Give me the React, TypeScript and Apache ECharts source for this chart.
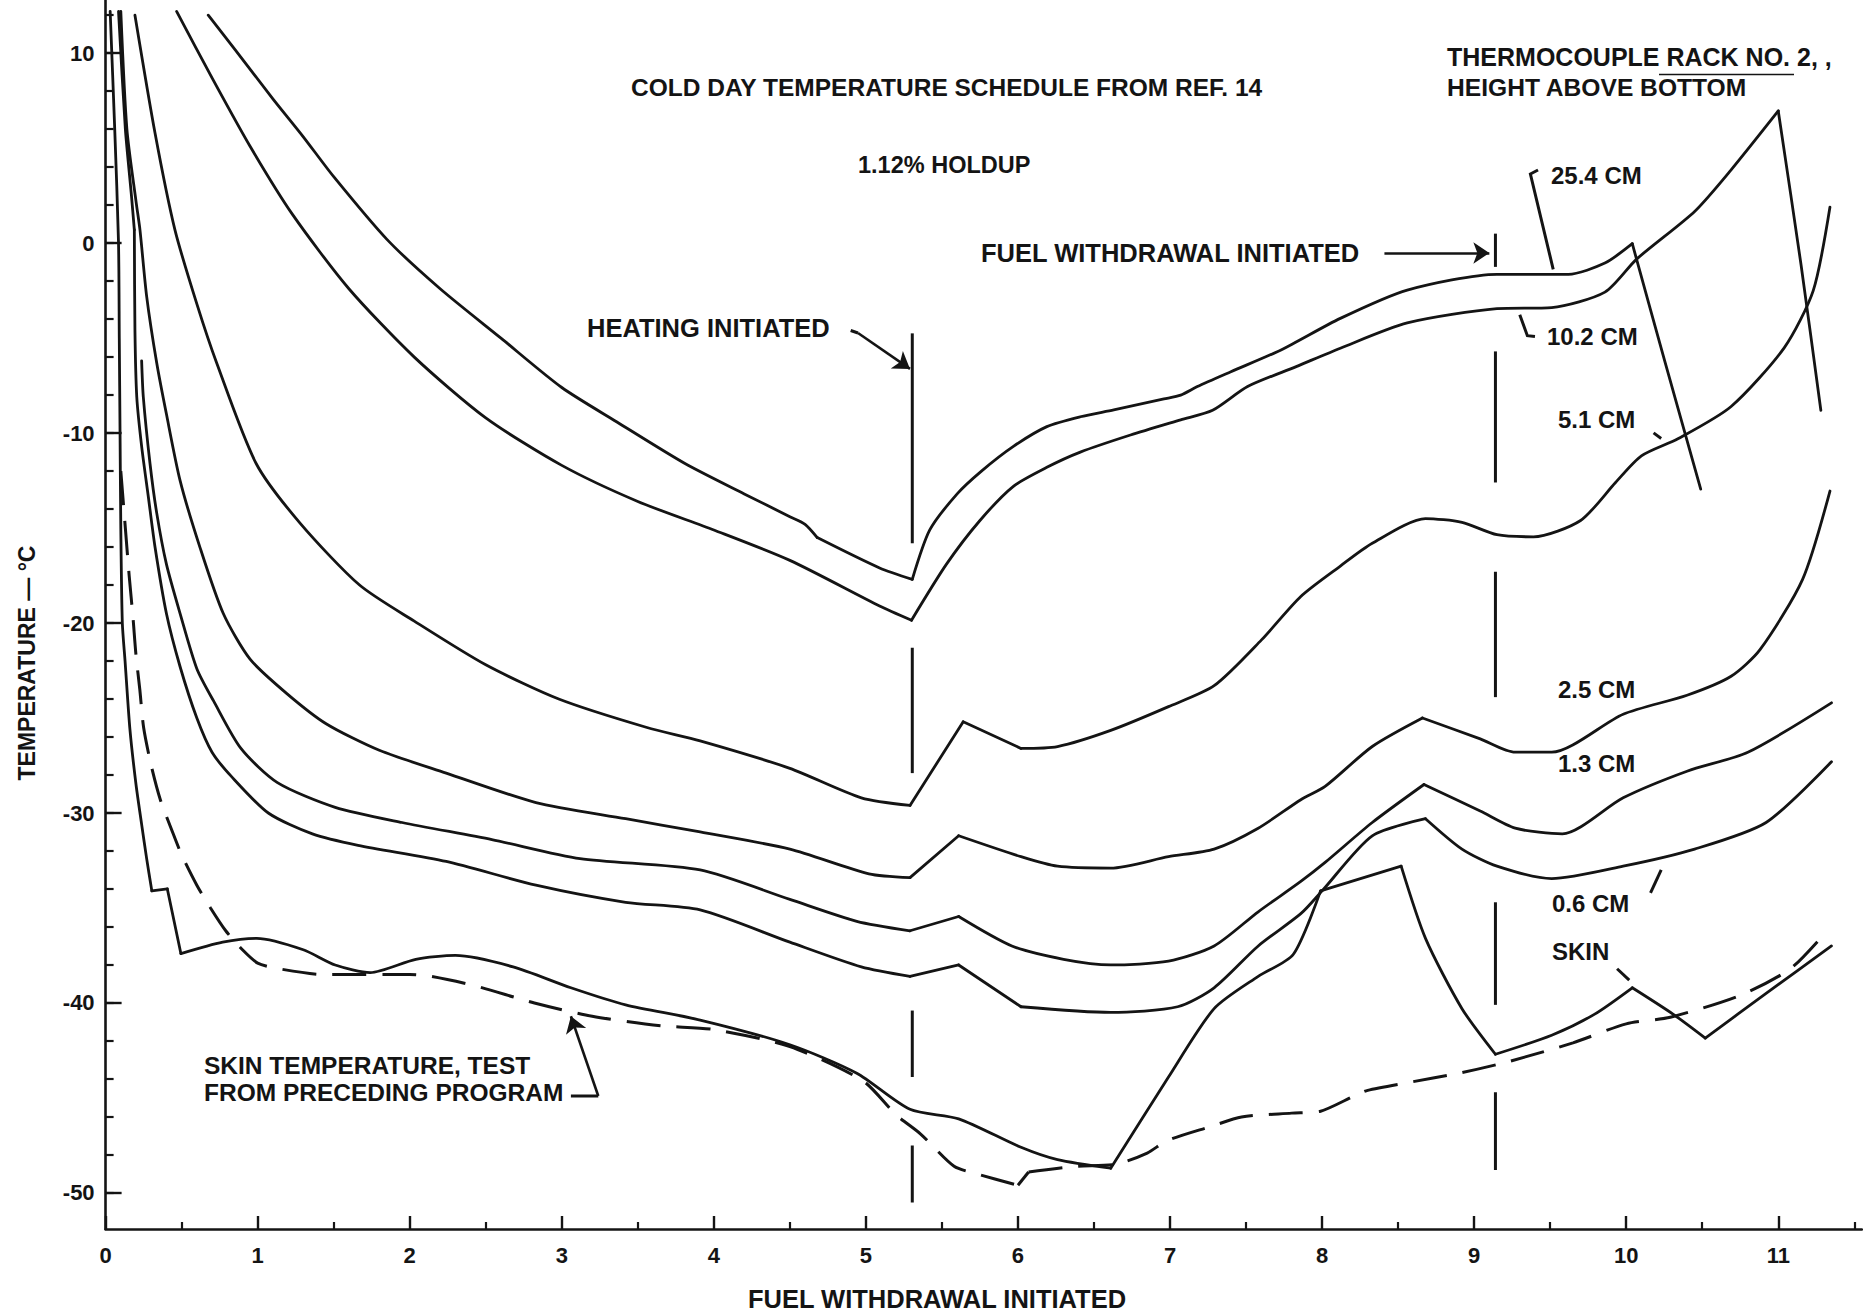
import { useEffect, useRef } from "react";
import * as echarts from "echarts";

const FONT = '"Liberation Sans", Arial, Helvetica, sans-serif';
const INK = "#141414";

// ---------- axes ----------
const X_MIN = 0;
const X_MAX = 11.55;
const Y_MIN = -51.9;
const Y_MAX = 12.8;
const X_TICK_LABELS = [0, 1, 2, 3, 4, 5, 6, 7, 8, 9, 10, 11];
const X_MINOR_TICKS = [0.5, 1.5, 2.5, 3.5, 4.5, 5.5, 6.5, 7.5, 8.5, 9.5, 10.5, 11.5];
const Y_TICK_LABELS = [-50, -40, -30, -20, -10, 0, 10];
const Y_MINOR_TICKS = [-50, -48, -46, -44, -42, -40, -38, -36, -34, -32, -30, -28, -26, -24, -22, -20, -18, -16, -14, -12, -10, -8, -6, -4, -2, 0, 2, 4, 6, 8, 10, 12];

// ---------- thermocouple curves [x, temperature °C] ----------
const CURVE_25_4 = [[0.675, 12.0], [0.85, 10.2], [1.1, 7.6], [1.3, 5.6], [1.5, 3.5], [1.85, 0.2], [2.2, -2.4], [2.6, -5.0], [3.0, -7.6], [3.36, -9.4], [3.81, -11.6], [4.2, -13.2], [4.5, -14.4], [4.6, -14.8], [4.68, -15.5], [5.09, -17.1], [5.305, -17.7], [5.42, -15.1], [5.6, -13.2], [5.76, -12.0], [5.97, -10.7], [6.19, -9.66], [6.41, -9.14], [6.63, -8.78], [6.96, -8.2], [7.07, -8.0], [7.18, -7.55], [7.4, -6.77], [7.73, -5.62], [8.12, -3.96], [8.56, -2.47], [9.15, -1.64], [9.62, -1.64], [9.86, -1.05], [10.04, -0.03], [10.26, -6.4], [10.49, -12.95]];
const CURVE_10_2 = [[0.467, 12.2], [0.7, 8.7], [0.95, 5.1], [1.23, 1.5], [1.6, -2.4], [2.03, -6.0], [2.5, -9.2], [3.0, -11.7], [3.5, -13.6], [4.0, -15.1], [4.5, -16.7], [5.09, -19.1], [5.3, -19.85], [5.53, -16.9], [5.75, -14.6], [5.97, -12.8], [6.19, -11.8], [6.41, -11.0], [6.74, -10.1], [7.07, -9.3], [7.28, -8.8], [7.51, -7.55], [7.83, -6.5], [8.12, -5.53], [8.56, -4.2], [9.15, -3.45], [9.51, -3.39], [9.86, -2.58], [10.07, -0.83], [10.45, 1.67], [10.69, 3.86], [11.0, 6.96], [11.15, -1.15], [11.28, -8.8]];
const CURVE_5_1 = [[0.193, 12.0], [0.325, 5.8], [0.456, 0.7], [0.6, -3.2], [0.73, -6.3], [0.99, -11.6], [1.28, -14.75], [1.67, -18.0], [2.03, -19.9], [2.5, -22.2], [2.98, -24.0], [3.56, -25.5], [3.91, -26.2], [4.5, -27.65], [4.97, -29.2], [5.29, -29.6], [5.64, -25.2], [6.02, -26.6], [6.26, -26.5], [6.61, -25.65], [6.99, -24.4], [7.29, -23.3], [7.6, -20.9], [7.86, -18.6], [8.12, -17.0], [8.33, -15.8], [8.68, -14.5], [8.92, -14.7], [9.15, -15.35], [9.39, -15.46], [9.7, -14.6], [9.93, -12.6], [10.1, -11.2], [10.34, -10.3], [10.69, -8.6], [11.04, -5.5], [11.23, -2.5], [11.34, 1.9]];
const CURVE_2_5 = [[0.1, 12.2], [0.14, 6.0], [0.2, 2.2], [0.226, 0.7], [0.27, -2.8], [0.336, -6.3], [0.4, -9.0], [0.49, -12.5], [0.62, -16.0], [0.774, -19.5], [0.95, -21.9], [1.19, -23.7], [1.45, -25.3], [1.8, -26.7], [2.24, -27.9], [2.83, -29.45], [3.42, -30.3], [3.91, -31.0], [4.5, -31.9], [5.02, -33.2], [5.29, -33.4], [5.61, -31.2], [6.02, -32.3], [6.26, -32.8], [6.61, -32.9], [6.99, -32.3], [7.29, -31.9], [7.58, -30.8], [7.86, -29.3], [8.02, -28.6], [8.33, -26.5], [8.66, -25.0], [9.04, -26.1], [9.27, -26.8], [9.51, -26.8], [9.98, -24.8], [10.4, -23.8], [10.69, -22.8], [10.88, -21.4], [11.16, -17.7], [11.34, -13.05]];
const CURVE_1_3 = [[0.237, -6.2], [0.248, -8.1], [0.292, -11.6], [0.336, -14.2], [0.4, -16.9], [0.49, -19.5], [0.6, -22.4], [0.71, -24.1], [0.89, -26.6], [1.13, -28.4], [1.51, -29.7], [1.95, -30.5], [2.54, -31.4], [3.12, -32.4], [3.91, -33.0], [4.5, -34.55], [4.94, -35.7], [5.29, -36.2], [5.61, -35.45], [5.96, -37.0], [6.3, -37.7], [6.61, -38.0], [6.99, -37.8], [7.29, -37.0], [7.58, -35.2], [7.86, -33.6], [8.02, -32.6], [8.33, -30.5], [8.67, -28.5], [9.04, -29.9], [9.27, -30.8], [9.58, -31.1], [9.98, -29.2], [10.4, -27.8], [10.8, -26.8], [11.35, -24.2]];
const CURVE_0_6 = [[0.085, 12.2], [0.13, 6.0], [0.17, 2.5], [0.189, 0.7], [0.193, -4.6], [0.205, -8.1], [0.237, -10.7], [0.281, -13.35], [0.325, -16.0], [0.4, -19.5], [0.49, -22.3], [0.6, -25.0], [0.7, -26.8], [0.83, -28.1], [1.07, -30.0], [1.36, -31.1], [1.66, -31.7], [2.24, -32.55], [2.83, -33.8], [3.42, -34.7], [3.91, -35.1], [4.5, -36.8], [4.97, -38.1], [5.29, -38.6], [5.61, -38.0], [6.02, -40.2], [6.61, -40.5], [7.05, -40.2], [7.29, -39.2], [7.58, -37.0], [7.86, -35.3], [8.0, -34.1], [8.33, -31.2], [8.68, -30.3], [8.92, -31.9], [9.15, -32.8], [9.51, -33.45], [9.98, -32.8], [10.45, -31.9], [10.92, -30.5], [11.35, -27.3]];
const CURVE_SKIN = [[0.03, 12.2], [0.06, 6.0], [0.085, 0.0], [0.09, -5.0], [0.095, -10.0], [0.1, -15.0], [0.11, -20.0], [0.128, -22.0], [0.16, -25.6], [0.2, -28.5], [0.237, -30.6], [0.27, -32.4], [0.304, -34.1], [0.406, -34.0], [0.495, -37.4], [0.77, -36.8], [0.994, -36.6], [1.3, -37.2], [1.51, -38.0], [1.74, -38.4], [2.04, -37.7], [2.3, -37.5], [2.68, -38.1], [3.06, -39.2], [3.42, -40.1], [3.91, -40.9], [4.5, -42.2], [4.94, -43.7], [5.29, -45.6], [5.61, -46.1], [6.02, -47.6], [6.26, -48.25], [6.61, -48.7], [6.99, -43.9], [7.29, -40.3], [7.58, -38.6], [7.81, -37.45], [7.99, -34.1], [8.52, -32.8], [8.68, -36.6], [8.92, -40.3], [9.14, -42.7], [9.51, -41.7], [9.79, -40.6], [10.04, -39.2], [10.31, -40.6], [10.52, -41.85], [10.92, -39.5], [11.35, -37.0]];
// skin temperature, test from preceding program (dashed)
const CURVE_SKIN_PRECEDING = [[0.1, -12.0], [0.12, -14.0], [0.155, -17.5], [0.18, -19.7], [0.2, -21.7], [0.225, -23.5], [0.25, -25.5], [0.3, -27.5], [0.36, -29.3], [0.44, -31.0], [0.5, -32.2], [0.6, -33.8], [0.69, -35.0], [0.79, -36.2], [0.9, -37.2], [1.0, -37.9], [1.14, -38.2], [1.43, -38.5], [2.0, -38.5], [2.14, -38.6], [2.43, -39.1], [2.82, -40.0], [3.2, -40.7], [3.65, -41.2], [4.0, -41.4], [4.5, -42.3], [4.98, -44.1], [5.2, -45.9], [5.36, -46.9], [5.58, -48.6], [5.73, -49.0], [6.0, -49.6], [6.07, -48.9], [6.38, -48.6], [6.64, -48.5], [6.85, -47.9], [6.98, -47.25], [7.27, -46.5], [7.47, -46.0], [7.8, -45.8], [7.99, -45.7], [8.21, -44.9], [8.3, -44.6], [8.56, -44.2], [8.9, -43.7], [9.22, -43.1], [9.65, -42.1], [10.0, -41.1], [10.29, -40.75], [10.75, -39.6], [11.08, -38.2], [11.31, -36.3]];

// x positions where a curve has a sharp corner (not smoothed through)
const KINKS_25_4 = [4.68, 5.305, 10.04];
const KINKS_10_2 = [5.3, 11.0];
const KINKS_5_1 = [5.29, 5.64, 6.02];
const KINKS_2_5 = [5.29, 5.61, 8.66];
const KINKS_1_3 = [5.29, 5.61, 8.67];
const KINKS_0_6 = [0.189, 5.29, 5.61, 6.02, 8.68];
const KINKS_SKIN = [0.304, 0.406, 0.495, 6.61, 7.99, 8.52, 9.14, 10.04, 10.52];
const KINKS_SKIN_PRECEDING = [6.0, 6.07];

// ---------- event markers (broken vertical lines) ----------
const HEATING_X = 5.305;
const HEATING_SEGMENTS = [[-4.75, -15.8], [-21.3, -27.9], [-40.4, -43.9], [-47.5, -50.5]];
const WITHDRAWAL_X = 9.14;
const WITHDRAWAL_SEGMENTS = [[0.5, -1.25], [-5.7, -12.6], [-17.3, -23.9], [-34.7, -40.1], [-44.7, -48.8]];

// ---------- leader lines and arrows (data coordinates) ----------
const LEADERS = [
  [[9.42, 3.85], [9.37, 3.64], [9.52, -1.38]],
  [[9.3, -3.77], [9.35, -4.87], [9.4, -4.92]],
  [[10.18, -9.99], [10.23, -10.28]],
  [[10.23, -33.0], [10.16, -34.2]],
  [[9.94, -38.2], [10.02, -38.8]],
  [[3.06, -44.9], [3.24, -44.9]],
  [[4.9, -4.6], [4.948, -4.73]],
];
const ARROWS = [
  [[4.948, -4.73], [5.29, -6.62]],
  [[8.41, -0.52], [9.1, -0.52]],
  [[3.24, -44.9], [3.06, -40.7]],
];

// ---------- texts ----------
const TEXTS = [
  { t: "COLD DAY TEMPERATURE SCHEDULE FROM REF. 14", x: 631, y: 87, s: 24.5 },
  { t: "1.12% HOLDUP", x: 858, y: 165, s: 23.5 },
  { t: "HEATING INITIATED", x: 587, y: 328, s: 25.5 },
  { t: "FUEL WITHDRAWAL INITIATED", x: 981, y: 253, s: 25.5 },
  { t: "THERMOCOUPLE RACK NO. 2, ,", x: 1447, y: 57, s: 25 },
  { t: "HEIGHT ABOVE BOTTOM", x: 1447, y: 87, s: 24.6 },
  { t: "25.4 CM", x: 1551, y: 175, s: 24 },
  { t: "10.2 CM", x: 1547, y: 336, s: 24 },
  { t: "5.1 CM", x: 1558, y: 419, s: 24 },
  { t: "2.5 CM", x: 1558, y: 689, s: 24 },
  { t: "1.3 CM", x: 1558, y: 763, s: 24 },
  { t: "0.6 CM", x: 1552, y: 903, s: 24 },
  { t: "SKIN", x: 1552, y: 951, s: 24 },
  { t: "SKIN TEMPERATURE, TEST", x: 204, y: 1065, s: 24.5 },
  { t: "FROM PRECEDING PROGRAM", x: 204, y: 1092, s: 24.5 },
];

function splitAtKinks(curve: number[][], kinks: number[]) {
  const pieces: number[][][] = [];
  let cur: number[][] = [];
  for (const p of curve) {
    cur.push(p);
    if (kinks.indexOf(p[0]) >= 0 && cur.length > 1) {
      pieces.push(cur);
      cur = [p];
    }
  }
  if (cur.length > 1) pieces.push(cur);
  return pieces;
}

export default function App() {
  const ref = useRef<HTMLDivElement>(null);

  useEffect(() => {
    if (!ref.current) return;
    const chart = echarts.init(ref.current, null, { renderer: "svg" });

    const solid = [
      { name: "25.4 CM", data: CURVE_25_4, kinks: KINKS_25_4 },
      { name: "10.2 CM", data: CURVE_10_2, kinks: KINKS_10_2 },
      { name: "5.1 CM", data: CURVE_5_1, kinks: KINKS_5_1 },
      { name: "2.5 CM", data: CURVE_2_5, kinks: KINKS_2_5 },
      { name: "1.3 CM", data: CURVE_1_3, kinks: KINKS_1_3 },
      { name: "0.6 CM", data: CURVE_0_6, kinks: KINKS_0_6 },
      { name: "SKIN", data: CURVE_SKIN, kinks: KINKS_SKIN },
    ];

    const curveSeries: any[] = [];
    solid.forEach((c) => {
      splitAtKinks(c.data, c.kinks).forEach((piece) => {
        curveSeries.push({
          type: "line",
          name: c.name,
          xAxisIndex: 0,
          yAxisIndex: 0,
          data: piece,
          showSymbol: false,
          symbol: "none",
          smooth: 0.25,
          lineStyle: { color: INK, width: 2.8, cap: "round", join: "round" },
          z: 3,
        });
      });
    });
    splitAtKinks(CURVE_SKIN_PRECEDING, KINKS_SKIN_PRECEDING).forEach((piece) => {
      curveSeries.push({
        type: "line",
        name: "SKIN TEMPERATURE, TEST FROM PRECEDING PROGRAM",
        xAxisIndex: 0,
        yAxisIndex: 0,
        data: piece,
        showSymbol: false,
        symbol: "none",
        smooth: 0.25,
        lineStyle: { color: INK, width: 3, type: [34, 16] },
        z: 3,
      });
    });

    const verticals = [
      ...HEATING_SEGMENTS.map((s) => ({ coords: [[HEATING_X, s[0]], [HEATING_X, s[1]]] })),
      ...WITHDRAWAL_SEGMENTS.map((s) => ({ coords: [[WITHDRAWAL_X, s[0]], [WITHDRAWAL_X, s[1]]] })),
    ];

    const axisLabelStyle = {
      fontSize: 22,
      fontWeight: "bold" as const,
      fontFamily: FONT,
      color: INK,
    };

    const option: any = {
      animation: false,
      backgroundColor: "#ffffff",
      grid: { left: 105.6, right: 1.1, top: 0, bottom: 84, containLabel: false },
      xAxis: [
        {
          type: "value",
          min: X_MIN,
          max: X_MAX,
          position: "bottom",
          axisLine: { show: true, onZero: false, lineStyle: { color: INK, width: 2.6 } },
          axisTick: { show: true, inside: true, length: 13, customValues: X_TICK_LABELS, lineStyle: { color: INK, width: 2.4 } },
          axisLabel: { ...axisLabelStyle, margin: 15, customValues: X_TICK_LABELS },
          splitLine: { show: false },
        },
        {
          type: "value",
          min: X_MIN,
          max: X_MAX,
          position: "bottom",
          axisLine: { show: false, onZero: false },
          axisTick: { show: true, inside: true, length: 7, customValues: X_MINOR_TICKS, lineStyle: { color: INK, width: 2.2 } },
          axisLabel: { show: false },
          splitLine: { show: false },
        },
      ],
      yAxis: [
        {
          type: "value",
          min: Y_MIN,
          max: Y_MAX,
          position: "left",
          axisLine: { show: true, onZero: false, lineStyle: { color: INK, width: 2.6 } },
          axisTick: { show: true, inside: true, length: 16, customValues: Y_TICK_LABELS, lineStyle: { color: INK, width: 2.4 } },
          axisLabel: { ...axisLabelStyle, margin: 11, customValues: Y_TICK_LABELS },
          splitLine: { show: false },
        },
        {
          type: "value",
          min: Y_MIN,
          max: Y_MAX,
          position: "left",
          axisLine: { show: false, onZero: false },
          axisTick: { show: true, inside: true, length: 8, customValues: Y_MINOR_TICKS, lineStyle: { color: INK, width: 2.2 } },
          axisLabel: { show: false },
          splitLine: { show: false },
        },
      ],
      series: [
        ...curveSeries,
        {
          type: "lines",
          coordinateSystem: "cartesian2d",
          xAxisIndex: 0,
          yAxisIndex: 0,
          polyline: true,
          data: [...verticals, ...LEADERS.map((c) => ({ coords: c }))],
          lineStyle: { color: INK, width: 3, opacity: 1, curveness: 0 },
          symbol: "none",
          z: 4,
        },
        {
          type: "lines",
          coordinateSystem: "cartesian2d",
          xAxisIndex: 0,
          yAxisIndex: 0,
          polyline: false,
          data: ARROWS.map((c) => ({ coords: c })),
          lineStyle: { color: INK, width: 2.6, opacity: 1, curveness: 0 },
          symbol: ["none", "arrow"],
          symbolSize: [12, 16],
          z: 4,
        },
      ],
      graphic: [
        ...TEXTS.map((d) => ({
          type: "text",
          x: d.x,
          y: d.y,
          silent: true,
          style: {
            text: d.t,
            fill: INK,
            fontSize: d.s,
            fontWeight: "bold",
            fontFamily: FONT,
            align: "left",
            verticalAlign: "middle",
          },
        })),
        {
          type: "text",
          x: 937,
          y: 1299,
          silent: true,
          style: {
            text: "FUEL WITHDRAWAL INITIATED",
            fill: INK,
            fontSize: 25.5,
            fontWeight: "bold",
            fontFamily: FONT,
            align: "center",
            verticalAlign: "middle",
          },
        },
        {
          type: "text",
          x: 27,
          y: 663,
          rotation: Math.PI / 2,
          silent: true,
          style: {
            text: "TEMPERATURE — °C",
            fill: INK,
            fontSize: 23,
            fontWeight: "bold",
            fontFamily: FONT,
            align: "center",
            verticalAlign: "middle",
          },
        },
        {
          type: "line",
          silent: true,
          shape: { x1: 1659, y1: 74.5, x2: 1794, y2: 74.5 },
          style: { stroke: INK, lineWidth: 1.5 },
        },
      ],
    };

    chart.setOption(option);
    return () => chart.dispose();
  }, []);

  return (
    <div
      ref={ref}
      style={{ position: "fixed", left: 0, top: 0, width: 1863, height: 1313, background: "#ffffff" }}
    />
  );
}
